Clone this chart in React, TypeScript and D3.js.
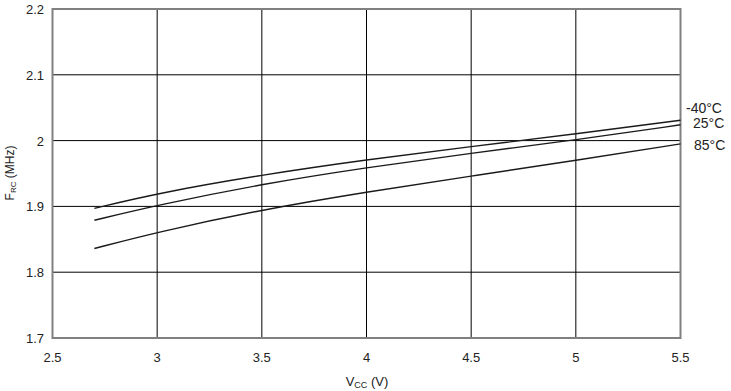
import React, { useEffect, useRef } from 'react';
import * as d3 from 'd3';

const vcc = [2.7, 3, 3.5, 4, 4.5, 5, 5.5];
const fMinus40 = [1.897, 1.92, 1.948, 1.971, 1.991, 2.01, 2.031];
const f25 = [1.879, 1.902, 1.934, 1.959, 1.981, 2.001, 2.024];
const f85 = [1.836, 1.861, 1.895, 1.922, 1.946, 1.97, 1.995];
const seriesLabels = ['-40°C', '25°C', '85°C'];
const xTicks = [2.5, 3, 3.5, 4, 4.5, 5, 5.5];
const yTicks = [1.7, 1.8, 1.9, 2.0, 2.1, 2.2];

const App: React.FC = () => {
  const ref = useRef<SVGSVGElement>(null);

  useEffect(() => {
    const svg = d3.select(ref.current);
    svg.selectAll('*').remove();

    const left = 52.5, right = 680.5, top = 9, bottom = 338;
    const x = d3.scaleLinear().domain([2.5, 5.5]).range([left, right]);
    const y = d3.scaleLinear().domain([1.7, 2.2]).range([bottom, top]);
    const font = 'Liberation Sans, Arial, sans-serif';

    // grid
    svg.append('g').selectAll('line').data(xTicks.slice(1, -1)).enter().append('line')
      .attr('x1', d => x(d)).attr('x2', d => x(d)).attr('y1', top).attr('y2', bottom)
      .attr('stroke', '#000').attr('stroke-width', 1);
    svg.append('g').selectAll('line').data(yTicks.slice(1, -1)).enter().append('line')
      .attr('x1', left).attr('x2', right).attr('y1', d => y(d)).attr('y2', d => y(d))
      .attr('stroke', '#000').attr('stroke-width', 1);

    // frame
    svg.append('rect')
      .attr('x', left).attr('y', top).attr('width', right - left).attr('height', bottom - top)
      .attr('fill', 'none').attr('stroke', '#808080').attr('stroke-width', 2);

    // curves
    const line = d3.line<number>()
      .x((_, i) => x(vcc[i]))
      .y(d => y(d))
      .curve(d3.curveBasis);
    [fMinus40, f25, f85].forEach(s => {
      svg.append('path').attr('d', line(s)).attr('fill', 'none')
        .attr('stroke', '#1a1a1a').attr('stroke-width', 1.4);
    });

    // series labels
    const labelPos = [[686, 113], [693, 128], [694, 150]];
    seriesLabels.forEach((t, i) => {
      svg.append('text').attr('x', labelPos[i][0]).attr('y', labelPos[i][1])
        .attr('font-family', font).attr('font-size', 14).attr('fill', '#222').text(t);
    });

    // tick labels
    svg.append('g').selectAll('text').data(xTicks).enter().append('text')
      .attr('x', d => x(d)).attr('y', 362).attr('text-anchor', 'middle')
      .attr('font-family', font).attr('font-size', 13).attr('fill', '#222')
      .text(d => String(d));
    svg.append('g').selectAll('text').data(yTicks).enter().append('text')
      .attr('x', 44).attr('y', d => y(d) + 5).attr('text-anchor', 'end')
      .attr('font-family', font).attr('font-size', 13).attr('fill', '#222')
      .text(d => d3.format('.1f')(d).replace(/\.0$/, ''));

    // axis titles
    const xt = svg.append('text').attr('x', 367).attr('y', 386).attr('text-anchor', 'middle')
      .attr('font-family', font).attr('font-size', 13).attr('fill', '#222');
    xt.append('tspan').text('V');
    xt.append('tspan').attr('font-size', 9).attr('dy', 2).text('CC');
    xt.append('tspan').attr('dy', -2).text(' (V)');

    const yt = svg.append('text').attr('transform', 'translate(14,173) rotate(-90)')
      .attr('text-anchor', 'middle')
      .attr('font-family', font).attr('font-size', 12).attr('fill', '#222');
    yt.append('tspan').text('F');
    yt.append('tspan').attr('font-size', 8).attr('dy', 2).text('RC');
    yt.append('tspan').attr('dy', -2).text(' (MHz)');
  }, []);

  return (
    <svg ref={ref} width={731} height={391}
      style={{ position: 'absolute', left: 0, top: 0, background: '#fff' }} />
  );
};

export default App;
